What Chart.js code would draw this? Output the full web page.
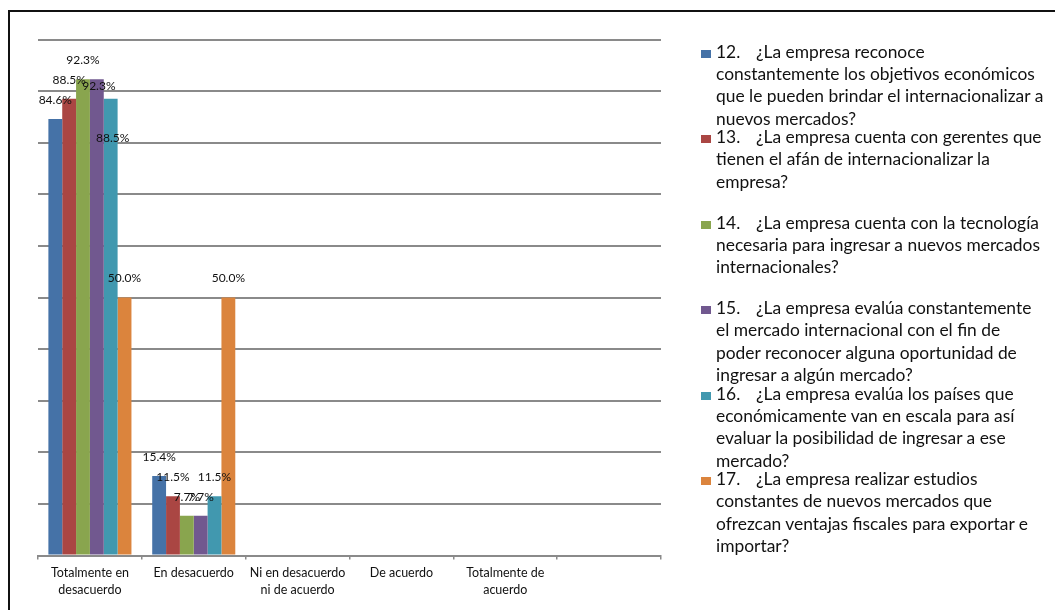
<!DOCTYPE html>
<html lang="es">
<head>
<meta charset="utf-8">
<script src="https://cdn.jsdelivr.net/npm/chart.js@4/dist/chart.umd.min.js"></script>
<style>
  html, body { margin: 0; padding: 0; background: #fff; }
  #wrap { position: relative; width: 1055px; height: 610px; overflow: hidden; }
  #frame { position: absolute; left: 8px; top: 10px; right: -4px; bottom: -4px;
           border-left: 2px solid #111; border-top: 2px solid #111; pointer-events: none; }
  canvas { position: absolute; left: 0; top: 0; }
  #legend { position: absolute; left: 0; top: 0; width: 1055px; height: 610px; pointer-events: none;
            font-family: Lato, "Noto Sans", sans-serif; font-size: 17.4px; color: #111; }
  .item { position: absolute; left: 716px; width: 339px; line-height: 22.4px; white-space: nowrap; }
  .key { position: absolute; left: -15px; top: 9px; width: 10px; height: 8px; }
  .num { display: inline-block; width: 40px; }
</style>
</head>
<body>
<div id="wrap">
  <canvas id="chart" width="1055" height="610"></canvas>
  <div id="legend"></div>
  <div id="frame"></div>
</div>
<script>
// Answer categories along the x axis (the last slot is left empty)
const categories = [
  ['Totalmente en', 'desacuerdo'],
  'En desacuerdo',
  ['Ni en desacuerdo', 'ni de acuerdo'],
  'De acuerdo',
  ['Totalmente de', 'acuerdo'],
  ''
];

// Percentage of respondents per question and answer
const q12 = [84.6, 15.4, 0, 0, 0, 0];
const q13 = [88.5, 11.5, 0, 0, 0, 0];
const q14 = [92.3, 7.7, 0, 0, 0, 0];
const q15 = [92.3, 7.7, 0, 0, 0, 0];
const q16 = [88.5, 11.5, 0, 0, 0, 0];
const q17 = [50.0, 50.0, 0, 0, 0, 0];

// Question numbers and their wrapped legend text
const questionNumbers = ['12.', '13.', '14.', '15.', '16.', '17.'];
const questionLines = [
  ['¿La empresa reconoce', 'constantemente los objetivos económicos', 'que le pueden brindar el internacionalizar a', 'nuevos mercados?'],
  ['¿La empresa cuenta con gerentes que', 'tienen el afán de internacionalizar la', 'empresa?'],
  ['¿La empresa cuenta con la tecnología', 'necesaria para ingresar a nuevos mercados', 'internacionales?'],
  ['¿La empresa evalúa constantemente', 'el mercado internacional con el fin de', 'poder reconocer alguna oportunidad de', 'ingresar a algún mercado?'],
  ['¿La empresa evalúa los países que', 'económicamente van en escala para así', 'evaluar la posibilidad de ingresar a ese', 'mercado?'],
  ['¿La empresa realizar estudios', 'constantes de nuevos mercados que', 'ofrezcan ventajas fiscales para exportar e', 'importar?']
];

const seriesValues = [q12, q13, q14, q15, q16, q17];
const colors = ['#4572A7', '#AA4643', '#89A54E', '#71588F', '#4198AF', '#DB843D'];

// Value labels above each bar; a few are nudged where they would collide
const labelNudge = { '3:0': [2, 26], '4:0': [2, 58] };

const valueLabels = {
  id: 'valueLabels',
  afterDatasetsDraw(chart) {
    const ctx = chart.ctx;
    ctx.save();
    ctx.font = '12px Lato, "Noto Sans", sans-serif';
    ctx.fillStyle = '#111';
    ctx.textAlign = 'center';
    ctx.textBaseline = 'middle';
    chart.data.datasets.forEach((ds, di) => {
      const meta = chart.getDatasetMeta(di);
      meta.data.forEach((bar, i) => {
        const v = ds.data[i];
        if (!v) return;
        const n = labelNudge[di + ':' + i] || [0, 0];
        ctx.fillText(v.toFixed(1) + '%', bar.x + n[0], bar.y - 19 + n[1]);
      });
    });
    ctx.restore();
  }
};

new Chart(document.getElementById('chart'), {
  type: 'bar',
  data: {
    labels: categories,
    datasets: seriesValues.map((vals, k) => ({
      label: questionNumbers[k] + ' ' + questionLines[k].join(' '),
      data: vals,
      backgroundColor: colors[k],
      borderWidth: 0,
      categoryPercentage: 0.8,
      barPercentage: 1.0
    }))
  },
  options: {
    responsive: false,
    animation: false,
    devicePixelRatio: 1,
    layout: { padding: { left: 38, top: 39.5, right: 394, bottom: 0 } },
    plugins: { legend: { display: false }, tooltip: { enabled: false } },
    scales: {
      x: {
        grid: { display: true, drawOnChartArea: false, drawTicks: true, tickLength: 4, color: '#8a8a8a', lineWidth: 1.5, offset: true },
        border: { display: true, color: '#8a8a8a', width: 2 },
        ticks: {
          color: '#111', padding: 5, maxRotation: 0, autoSkip: false,
          font: { family: 'Lato, "Noto Sans", sans-serif', size: 12.5, lineHeight: 1.34 }
        },
        afterFit(axis) { axis.height = 54.5; }
      },
      y: {
        min: 0, max: 100,
        ticks: { display: false, stepSize: 10 },
        grid: { color: '#8a8a8a', lineWidth: 2, drawTicks: false },
        border: { display: false },
        afterFit(axis) { axis.width = 0; }
      }
    }
  },
  plugins: [valueLabels]
});

// Legend on the right with wrapped question text
const legend = document.getElementById('legend');
questionLines.forEach((lines, k) => {
  const item = document.createElement('div');
  item.className = 'item';
  item.style.top = (40.5 + k * 85.5) + 'px';
  const key = document.createElement('span');
  key.className = 'key';
  key.style.background = colors[k];
  item.appendChild(key);
  const num = document.createElement('span');
  num.className = 'num';
  num.textContent = questionNumbers[k];
  item.appendChild(num);
  lines.forEach((line, j) => {
    if (j > 0) item.appendChild(document.createElement('br'));
    item.appendChild(document.createTextNode(line));
  });
  legend.appendChild(item);
});
</script>
</body>
</html>
